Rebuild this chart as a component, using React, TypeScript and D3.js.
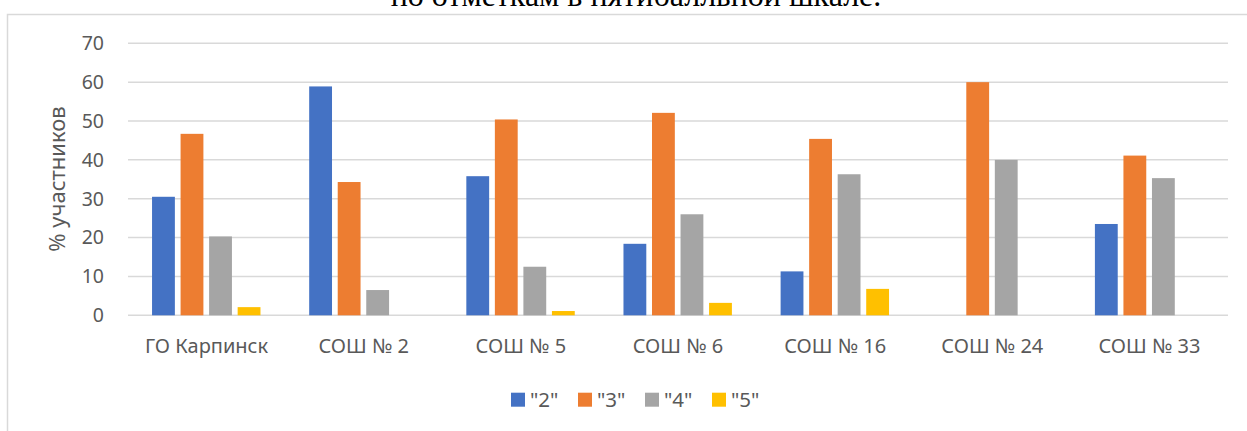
import React from "react";
import * as d3 from "d3";

const categories = ["ГО Карпинск", "СОШ № 2", "СОШ № 5", "СОШ № 6", "СОШ № 16", "СОШ № 24", "СОШ № 33"];
const seriesNames = ['"2"', '"3"', '"4"', '"5"'];
const values2 = [30.5, 58.9, 35.8, 18.4, 11.3, 0, 23.5];
const values3 = [46.7, 34.3, 50.4, 52.1, 45.4, 60.0, 41.1];
const values4 = [20.3, 6.5, 12.5, 26.0, 36.3, 40.0, 35.3];
const values5 = [2.1, 0, 1.1, 3.2, 6.8, 0, 0];
const yTicks = [0, 10, 20, 30, 40, 50, 60, 70];
const colors = ["#4472C4", "#ED7D31", "#A5A5A5", "#FFC000"];
const titleText = "по отметкам в пятибалльной шкале.";
const yLabel = "% участников";

const W = 1247;
const H = 431;
const FONT = "'Noto Sans', 'Liberation Sans', sans-serif";
const TXT = "#595959";

export default function App() {
  const series = [values2, values3, values4, values5];
  const x0 = d3.scaleBand<string>().domain(categories).range([128, 1228]).padding(0);
  const bw = x0.bandwidth();
  const x1 = d3
    .scaleBand<string>()
    .domain(seriesNames)
    .range([bw * 0.153, bw * 0.843])
    .paddingInner(0.2)
    .paddingOuter(0);
  const y = d3.scaleLinear().domain([0, 70]).range([315.3, 43.3]);

  return (
    <svg
      width={W}
      height={H}
      style={{ position: "absolute", left: 0, top: 0, background: "#fff" }}
      fontFamily={FONT}
    >
      <rect x={0} y={0} width={W} height={H} fill="#fff" />
      <text
        x={636}
        y={6}
        textAnchor="middle"
        fontFamily="'Liberation Serif', 'Times New Roman', serif"
        fontSize={32}
        fill="#000"
      >
        {titleText}
      </text>
      <rect x={7.5} y={14.5} width={W + 20} height={H + 20} fill="none" stroke="#D9D9D9" strokeWidth={1.5} />

      {yTicks.map((t) => (
        <g key={t}>
          <line x1={128} x2={1228} y1={y(t)} y2={y(t)} stroke="#D9D9D9" strokeWidth={1.5} />
          <text x={104} y={y(t)} dy="0.35em" textAnchor="end" fontSize={19.5} fill={TXT}>
            {t}
          </text>
        </g>
      ))}

      <text
        transform={`translate(65,179) rotate(-90)`}
        textAnchor="middle"
        fontSize={22}
        fill={TXT}
      >
        {yLabel}
      </text>

      {categories.map((c, ci) => (
        <g key={c}>
          {series.map((s, si) =>
            s[ci] > 0 ? (
              <rect
                key={si}
                x={(x0(c) as number) + (x1(seriesNames[si]) as number)}
                y={y(s[ci])}
                width={x1.bandwidth()}
                height={y(0) - y(s[ci])}
                fill={colors[si]}
              />
            ) : null
          )}
          <text x={(x0(c) as number) + bw / 2} y={353} textAnchor="middle" fontSize={20} fill={TXT}>
            {c}
          </text>
        </g>
      ))}

      {seriesNames.map((n, i) => (
        <g key={n} transform={`translate(${511 + i * 67},0)`}>
          <rect x={0} y={392.7} width={14} height={14} fill={colors[i]} />
          <text x={19} y={406.5} fontSize={20.5} fill={TXT}>
            {n}
          </text>
        </g>
      ))}
    </svg>
  );
}
